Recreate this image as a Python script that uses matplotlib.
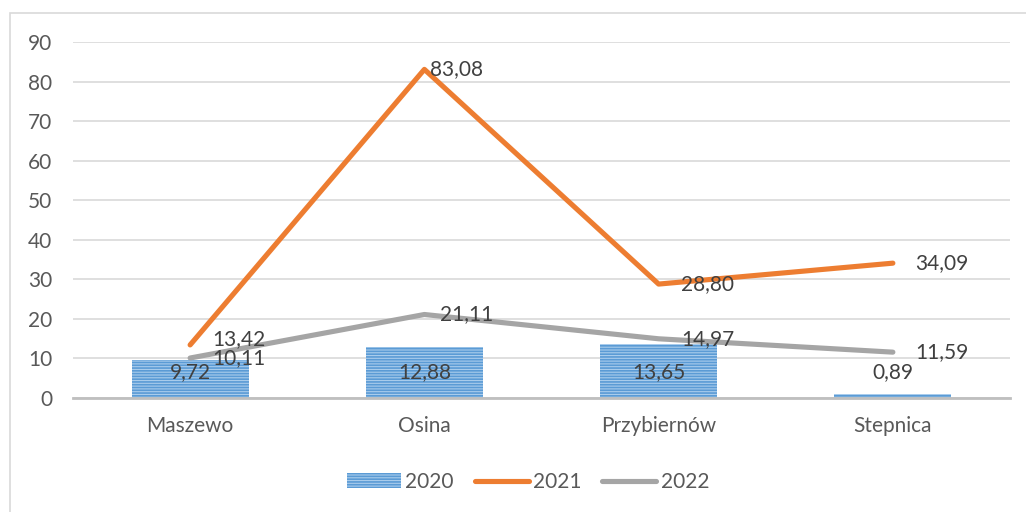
import numpy as np
import matplotlib
matplotlib.use("Agg")
from matplotlib import pyplot as plt
from matplotlib.patches import Rectangle

plt.rcParams['font.family'] = ['Lato', 'DejaVu Sans']
plt.rcParams['hatch.linewidth'] = 1.2

gminy = ["Maszewo", "Osina", "Przybiernów", "Stepnica"]
v2020 = [9.72, 12.88, 13.65, 0.89]
v2021 = [13.42, 83.08, 28.80, 34.09]
v2022 = [10.11, 21.11, 14.97, 11.59]

fmt = lambda v: f"{v:.2f}".replace(".", ",")

fig = plt.figure(figsize=(10.26, 5.12), dpi=100)
ax = fig.add_axes([73/1026, 1-398/512, (1010-73)/1026, (398-42)/512])

x = np.arange(len(gminy))
bars = ax.bar(x, v2020, width=0.5, color="#A9CCEC", edgecolor="#5B9BD5",
              hatch="------", linewidth=0, label="2020", zorder=2)
l1, = ax.plot(x, v2021, color="#ED7D31", lw=3.7, solid_capstyle="round", label="2021", zorder=3)
l2, = ax.plot(x, v2022, color="#A5A5A5", lw=3.7, solid_capstyle="round", label="2022", zorder=3)

txt = dict(fontsize=15, color="#404040", zorder=5)
# bar labels sit near the base, at the same height for all bars
for i, v in enumerate(v2020):
    ax.annotate(fmt(v), (x[i], 0), xytext=(0, 19), textcoords="offset points",
                ha="center", va="center", **txt)
dx = [16, 4, 16, 16]
for i, v in enumerate(v2021):
    ax.annotate(fmt(v), (x[i], v), xytext=(dx[i], 4 if i == 0 else 0), textcoords="offset points",
                ha="left", va="center", **txt)
dx = [16, 11, 16, 16]
for i, v in enumerate(v2022):
    ax.annotate(fmt(v), (x[i], v), xytext=(dx[i], 0), textcoords="offset points",
                ha="left", va="center", **txt)

ax.set_xlim(-0.5, len(gminy) - 0.5)
ax.set_ylim(0, 90)
ax.set_yticks(range(0, 91, 10))
ax.set_xticks(x)
ax.set_xticklabels(gminy)
ax.tick_params(length=0, labelsize=15, labelcolor="#595959")
ax.tick_params(axis="y", pad=15)
ax.tick_params(axis="x", pad=13)
ax.grid(axis="y", color="#D9D9D9", lw=1.2, zorder=0)
ax.set_axisbelow(True)
for s in ["top", "right", "left"]:
    ax.spines[s].set_visible(False)
ax.spines["bottom"].set_color("#BFBFBF")
ax.spines["bottom"].set_linewidth(2)

leg = fig.legend(handles=[bars, l1, l2], loc="center", bbox_to_anchor=(528/1026, 1-482/512),
                 ncol=3, frameon=False, fontsize=15, handlelength=2.6, columnspacing=1.0,
                 handletextpad=0.2, labelcolor="#595959")

# outer chart frame (cut by the image edge)
fig.patches.append(Rectangle((10/1026, -0.1), 1.2, 1.1 - 13/512, transform=fig.transFigure,
                             fill=False, edgecolor="#D9D9D9", lw=1.2))

fig.savefig("out.png", dpi=100)
